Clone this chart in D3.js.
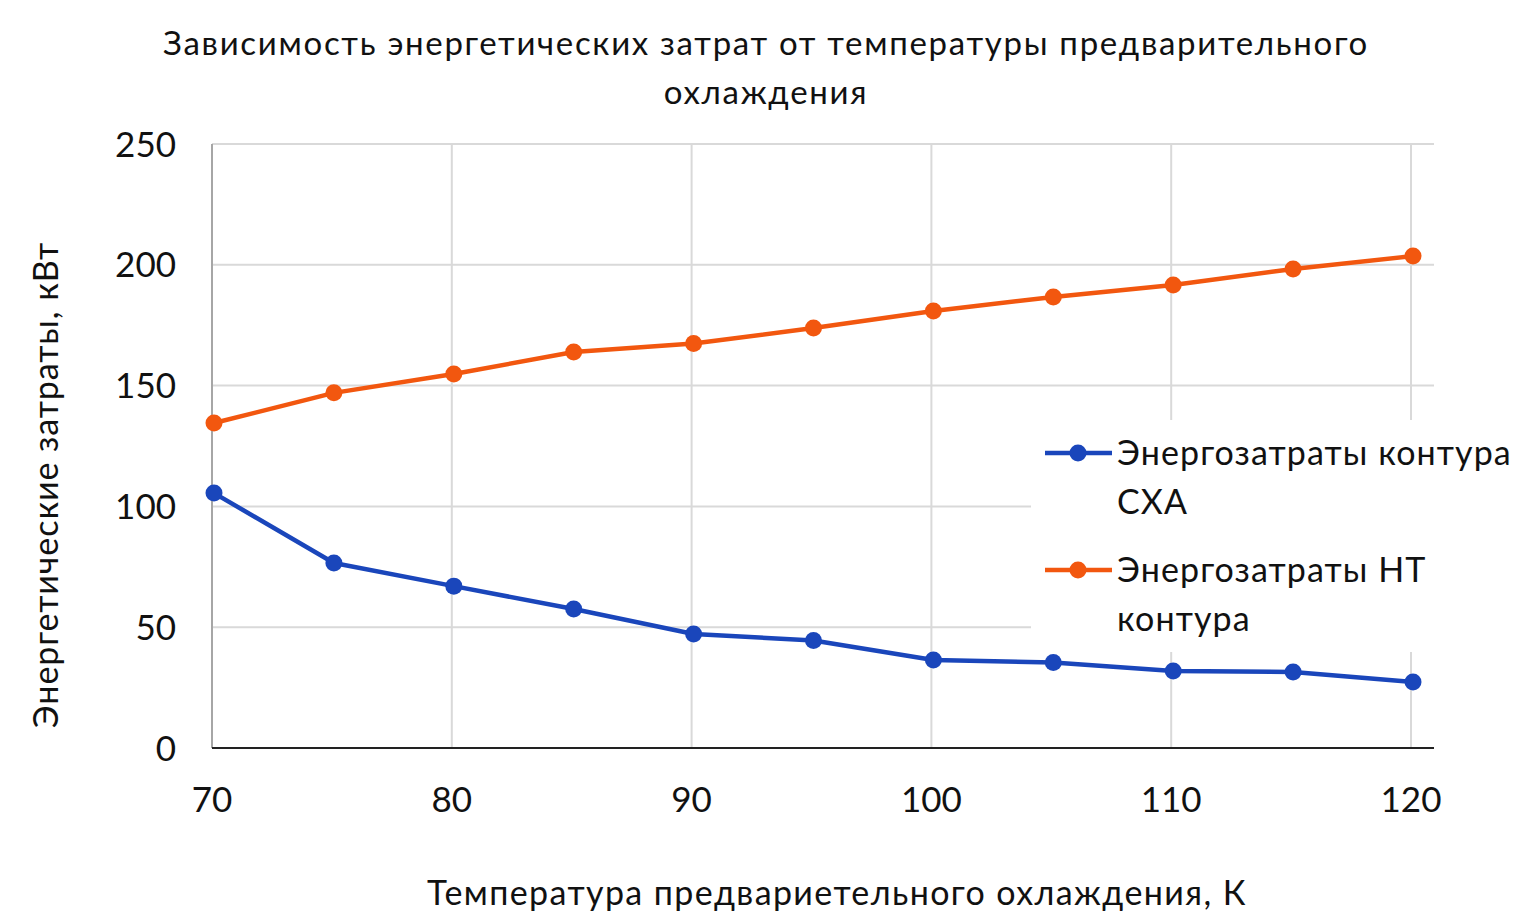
<!DOCTYPE html>
<html>
<head>
<meta charset="utf-8">
<script src="https://cdn.jsdelivr.net/npm/d3@7"></script>
<style>
  body { margin: 0; background: #fff; }
  text { font-family: Lato, "Open Sans", sans-serif; fill: #111; }
</style>
</head>
<body>
<svg id="chart" width="1531" height="918"></svg>
<script>
// temperatures, K
const temps = [70, 75, 80, 85, 90, 95, 100, 105, 110, 115, 120];
// energy of the refrigerating unit loop, kW
const schaValues = [105.5, 76.6, 67, 57.5, 47.2, 44.5, 36.4, 35.4, 31.9, 31.5, 27.3];
// energy of the low-temperature loop, kW
const ntValues = [134.5, 147, 154.8, 163.9, 167.4, 173.8, 180.9, 186.7, 191.6, 198.3, 203.6];
const xTicks = [70, 80, 90, 100, 110, 120];
const yTicks = [0, 50, 100, 150, 200, 250];

const titleLines = ["Зависимость энергетических затрат от температуры предварительного", "охлаждения"];
const xTitle = "Температура предвариетельного охлаждения, К";
const yTitle = "Энергетические затраты, кВт";

const series = [
    {name: ["Энергозатраты контура", "СХА"], values: schaValues, color: "#1a46bb"},
    {name: ["Энергозатраты НТ", "контура"], values: ntValues, color: "#f2570f"}
];

const svg = d3.select("#chart");
const plotLeft = 212, plotRight = 1434, plotTop = 144, plotBottom = 748;

let xScale = d3.scaleLinear()
    .domain([70, 120])
    .range([plotLeft + 2, 1413]);

let yScale = d3.scaleLinear()
    .domain([0, 250])
    .range([plotBottom, plotTop]);

// gridlines
svg.append("g")
    .selectAll("line")
    .data(yTicks.slice(1))
    .enter()
    .append("line")
    .attr("x1", plotLeft)
    .attr("x2", plotRight)
    .attr("y1", d => yScale(d))
    .attr("y2", d => yScale(d))
    .attr("stroke", "#d9d9d9")
    .attr("stroke-width", 2);

svg.append("g")
    .selectAll("line")
    .data(xTicks.slice(1))
    .enter()
    .append("line")
    .attr("x1", d => xScale(d) - 2)
    .attr("x2", d => xScale(d) - 2)
    .attr("y1", plotTop)
    .attr("y2", plotBottom)
    .attr("stroke", "#d9d9d9")
    .attr("stroke-width", 2);

// left axis
svg.append("line")
    .attr("x1", plotLeft).attr("x2", plotLeft)
    .attr("y1", plotTop).attr("y2", plotBottom)
    .attr("stroke", "#a6a6a6")
    .attr("stroke-width", 2);

// bottom axis
svg.append("line")
    .attr("x1", plotLeft).attr("x2", plotRight)
    .attr("y1", plotBottom).attr("y2", plotBottom)
    .attr("stroke", "#222")
    .attr("stroke-width", 2);

// tick labels
svg.append("g")
    .selectAll("text")
    .data(yTicks)
    .enter()
    .append("text")
    .attr("x", 176)
    .attr("y", d => yScale(d))
    .attr("dy", "0.36em")
    .style("text-anchor", "end")
    .style("font-size", "35px")
    .text(d => d);

svg.append("g")
    .selectAll("text")
    .data(xTicks)
    .enter()
    .append("text")
    .attr("x", d => xScale(d) - 2)
    .attr("y", 812)
    .style("text-anchor", "middle")
    .style("font-size", "35px")
    .text(d => d);

// titles
svg.append("g")
    .selectAll("text")
    .data(titleLines)
    .enter()
    .append("text")
    .attr("x", 766)
    .attr("y", (d, i) => 55 + i * 49)
    .style("text-anchor", "middle")
    .style("font-size", "33px")
    .style("letter-spacing", "1.7px")
    .text(d => d);

svg.append("text")
    .attr("x", 837)
    .attr("y", 905)
    .style("text-anchor", "middle")
    .style("font-size", "34px")
    .style("letter-spacing", "1.4px")
    .text(xTitle);

svg.append("text")
    .attr("transform", "translate(58, 485) rotate(-90)")
    .style("text-anchor", "middle")
    .style("font-size", "34px")
    .style("letter-spacing", "0.95px")
    .text(yTitle);

// legend background (hides the grid behind it)
svg.append("rect")
    .attr("x", 1031)
    .attr("y", 420)
    .attr("width", 500)
    .attr("height", 232)
    .attr("fill", "#fff");

// series
const line = d3.line()
    .x((d, i) => xScale(temps[i]))
    .y(d => yScale(d));

series.forEach(s => {
    const g = svg.append("g");
    g.append("path")
        .datum(s.values)
        .attr("d", line)
        .attr("fill", "none")
        .attr("stroke", s.color)
        .attr("stroke-width", 4.5)
        .attr("stroke-linejoin", "round");
    g.selectAll("circle")
        .data(s.values)
        .enter()
        .append("circle")
        .attr("cx", (d, i) => xScale(temps[i]))
        .attr("cy", d => yScale(d))
        .attr("r", 8.5)
        .attr("fill", s.color);
});

// legend
series.forEach((s, k) => {
    const y0 = 453 + k * 117;
    const g = svg.append("g");
    g.append("line")
        .attr("x1", 1045).attr("x2", 1112)
        .attr("y1", y0).attr("y2", y0)
        .attr("stroke", s.color)
        .attr("stroke-width", 4.5);
    g.append("circle")
        .attr("cx", 1078).attr("cy", y0)
        .attr("r", 8.5)
        .attr("fill", s.color);
    g.selectAll("text")
        .data(s.name)
        .enter()
        .append("text")
        .attr("x", 1117)
        .attr("y", (d, i) => y0 + 12 + i * 49)
        .style("font-size", "34px")
        .style("letter-spacing", "1.1px")
        .text(d => d);
});
</script>
</body>
</html>
